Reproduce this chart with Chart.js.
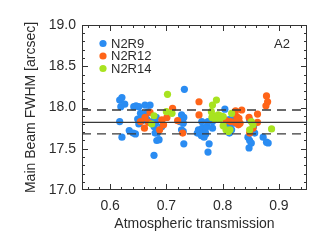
<!DOCTYPE html>
<html>
<head>
<meta charset="utf-8">
<script src="https://cdn.jsdelivr.net/npm/chart.js@4/dist/chart.umd.min.js"></script>
<style>
  html, body { margin: 0; padding: 0; background: #ffffff; }
  #wrap { width: 332px; height: 242px; }
</style>
</head>
<body>
<div id="wrap"><canvas id="beamChart" width="332" height="242"></canvas></div>
<script>
// Data
const n2r9X = [0.617, 0.621, 0.619, 0.626, 0.617, 0.621, 0.634, 0.642, 0.646, 0.651, 0.662, 0.671,
    0.641, 0.645, 0.654, 0.659, 0.664, 0.668, 0.649, 0.657, 0.665, 0.651, 0.674, 0.682, 0.678,
    0.680, 0.684, 0.683, 0.687, 0.678, 0.692, 0.681, 0.727, 0.731, 0.724, 0.730, 0.732, 0.727,
    0.730, 0.731, 0.757, 0.760, 0.764, 0.763, 0.769, 0.767, 0.772, 0.755, 0.762, 0.770, 0.758,
    0.774, 0.776, 0.763, 0.774, 0.782, 0.782, 0.804, 0.810, 0.813, 0.816, 0.819, 0.812, 0.807,
    0.816, 0.845, 0.848, 0.851, 0.847, 0.857, 0.855, 0.848, 0.852, 0.872, 0.878, 0.881];
const n2r9Y = [18.09, 18.12, 18.01, 18.04, 17.83, 17.64, 17.72, 18.01, 18.02, 18.01, 18.03, 18.03,
    17.69, 17.68, 17.93, 17.91, 17.93, 17.95, 17.86, 17.84, 17.86, 17.80, 17.83, 17.88, 17.77,
    17.69, 17.69, 17.60, 17.61, 17.42, 17.77, 17.81, 17.91, 17.88, 17.83, 17.81, 18.22, 17.73,
    17.71, 17.56, 17.73, 17.69, 17.75, 17.67, 17.71, 17.64, 17.77, 17.69, 17.66, 17.68, 17.71,
    17.46, 17.56, 17.83, 17.83, 17.83, 17.75, 17.98, 17.85, 17.79, 17.73, 17.81, 17.69, 17.77,
    17.87, 17.64, 17.60, 17.57, 17.51, 17.69, 17.77, 17.85, 17.72, 17.64, 17.58, 17.57];

const n2r12X = [0.671, 0.662, 0.654, 0.668, 0.661, 0.688, 0.692, 0.695, 0.701, 0.711, 0.720, 0.729,
    0.758, 0.758, 0.823, 0.834, 0.825, 0.826, 0.828, 0.831, 0.822, 0.829, 0.847, 0.862, 0.862,
    0.854, 0.848, 0.878, 0.880, 0.877, 0.814, 0.806];
const n2r12Y = [17.94, 17.88, 17.83, 17.82, 17.75, 17.73, 17.85, 17.79, 17.88, 17.99, 17.84, 17.69,
    18.07, 17.91, 17.96, 17.97, 17.89, 17.83, 17.79, 17.81, 17.82, 17.87, 17.88, 17.92, 17.82,
    17.75, 17.69, 18.14, 18.07, 18.02, 17.83, 17.84];

const n2r14X = [0.702, 0.678, 0.674, 0.700, 0.710, 0.789, 0.782, 0.780, 0.783, 0.788, 0.792, 0.796,
    0.801, 0.795, 0.786, 0.781, 0.801, 0.806, 0.810, 0.813, 0.816, 0.851, 0.854, 0.848, 0.887];
const n2r14Y = [18.16, 17.90, 17.80, 17.95, 17.93, 18.09, 18.03, 17.95, 17.90, 17.89, 17.91, 17.90,
    17.89, 17.86, 17.86, 17.88, 17.78, 17.73, 17.71, 17.73, 17.93, 17.83, 17.79, 17.73, 17.74];

const meanFwhm = 17.82;
const upperFwhm = 17.97;
const lowerFwhm = 17.68;

const xRange = [0.55, 0.95];
const yRange = [17.0, 19.0];
const xTicks = [0.6, 0.7, 0.8, 0.9];
const yTicks = [17.0, 17.5, 18.0, 18.5, 19.0];

const seriesNames = ['N2R9', 'N2R12', 'N2R14'];
const seriesColors = ['#2a8cf2', '#ff6418', '#a8e320'];
const textColor = '#2b2b2b';
const fontFamily = '"Liberation Sans", Arial, sans-serif';

function toPoints(xs, ys) {
    return xs.map((x, i) => ({ x: x, y: ys[i] }));
}

function hLine(y) {
    return [{ x: xRange[0], y: y }, { x: xRange[1], y: y }];
}

// frame, inward ticks, legend and panel label
const framePlugin = {
    id: 'framePlugin',
    afterDraw(chart) {
        const ctx = chart.ctx;
        const a = chart.chartArea;
        const xs = chart.scales.x;
        const ys = chart.scales.y;
        ctx.save();
        ctx.strokeStyle = '#333333';
        ctx.lineWidth = 1;
        ctx.strokeRect(a.left + 0.5, a.top + 0.5, a.right - a.left - 1, a.bottom - a.top - 1);

        ctx.beginPath();
        // x ticks, major 0.1 and minor 0.02
        for (let k = 0; k <= 20; k++) {
            const v = xRange[0] + 0.01 + k * 0.02;
            if (v > xRange[1]) break;
            const px = Math.round(xs.getPixelForValue(v)) + 0.5;
            const major = xTicks.some(t => Math.abs(t - v) < 1e-6);
            const len = major ? 6 : 3;
            ctx.moveTo(px, a.bottom);
            ctx.lineTo(px, a.bottom - len);
            ctx.moveTo(px, a.top);
            ctx.lineTo(px, a.top + len);
        }
        // y ticks, major 0.5 and minor 0.1
        for (let k = 1; k < 20; k++) {
            const v = yRange[0] + k * 0.1;
            const py = Math.round(ys.getPixelForValue(v)) + 0.5;
            const major = yTicks.some(t => Math.abs(t - v) < 1e-6);
            const len = major ? 6 : 3;
            ctx.moveTo(a.left, py);
            ctx.lineTo(a.left + len, py);
            ctx.moveTo(a.right, py);
            ctx.lineTo(a.right - len, py);
        }
        ctx.stroke();

        // legend
        ctx.font = '13px ' + fontFamily;
        ctx.textBaseline = 'middle';
        ctx.textAlign = 'left';
        seriesNames.forEach((name, i) => {
            const cy = 43.5 + i * 12.5;
            ctx.fillStyle = seriesColors[i];
            ctx.beginPath();
            ctx.arc(103, cy, 3.6, 0, Math.PI * 2);
            ctx.fill();
            ctx.fillStyle = textColor;
            ctx.fillText(name, 111, cy + 0.5);
        });
        ctx.textAlign = 'right';
        ctx.fillText('A2', 290, 44);
        ctx.restore();
    }
};

const scatterStyle = (i) => ({
    backgroundColor: seriesColors[i],
    borderWidth: 0,
    pointRadius: 3.6,
    pointHoverRadius: 3.6
});

const lineStyle = (dash) => ({
    type: 'line',
    showLine: true,
    borderColor: '#3a3a3a',
    borderWidth: 1.4,
    borderDash: dash,
    pointRadius: 0,
    fill: false,
    order: 0
});

const ctx = document.getElementById('beamChart').getContext('2d');
new Chart(ctx, {
    type: 'scatter',
    data: {
        datasets: [
            Object.assign({ label: 'mean', data: hLine(meanFwhm) }, lineStyle([])),
            Object.assign({ label: 'upper', data: hLine(upperFwhm) }, lineStyle([9, 6])),
            Object.assign({ label: 'lower', data: hLine(lowerFwhm) }, lineStyle([9, 6])),
            Object.assign({ label: seriesNames[0], data: toPoints(n2r9X, n2r9Y), order: 3 }, scatterStyle(0)),
            Object.assign({ label: seriesNames[1], data: toPoints(n2r12X, n2r12Y), order: 2 }, scatterStyle(1)),
            Object.assign({ label: seriesNames[2], data: toPoints(n2r14X, n2r14Y), order: 1 }, scatterStyle(2))
        ]
    },
    options: {
        responsive: false,
        animation: false,
        layout: { padding: { left: 0, top: 25, right: 25, bottom: 0 } },
        plugins: {
            legend: { display: false },
            tooltip: { enabled: false }
        },
        scales: {
            x: {
                type: 'linear',
                min: xRange[0],
                max: xRange[1],
                afterBuildTicks: function(scale) {
                    scale.ticks = xTicks.map(v => ({ value: v }));
                },
                afterFit: function(scale) { scale.height = 52; },
                grid: { display: false, drawTicks: false },
                border: { display: false },
                ticks: {
                    padding: 8,
                    color: textColor,
                    font: { family: fontFamily, size: 14 },
                    callback: v => v.toFixed(1)
                },
                title: {
                    display: true,
                    text: 'Atmospheric transmission',
                    color: textColor,
                    font: { family: fontFamily, size: 14 },
                    padding: { top: 0, bottom: 9 }
                }
            },
            y: {
                type: 'linear',
                min: yRange[0],
                max: yRange[1],
                afterBuildTicks: function(scale) {
                    scale.ticks = yTicks.map(v => ({ value: v }));
                },
                afterFit: function(scale) { scale.width = 82; },
                grid: { display: false, drawTicks: false },
                border: { display: false },
                ticks: {
                    padding: 6,
                    color: textColor,
                    font: { family: fontFamily, size: 14 },
                    callback: v => v.toFixed(1)
                },
                title: {
                    display: true,
                    text: 'Main Beam FWHM [arcsec]',
                    color: textColor,
                    font: { family: fontFamily, size: 14 },
                    padding: { top: 23, bottom: 0 }
                }
            }
        }
    },
    plugins: [framePlugin]
});
</script>
</body>
</html>
